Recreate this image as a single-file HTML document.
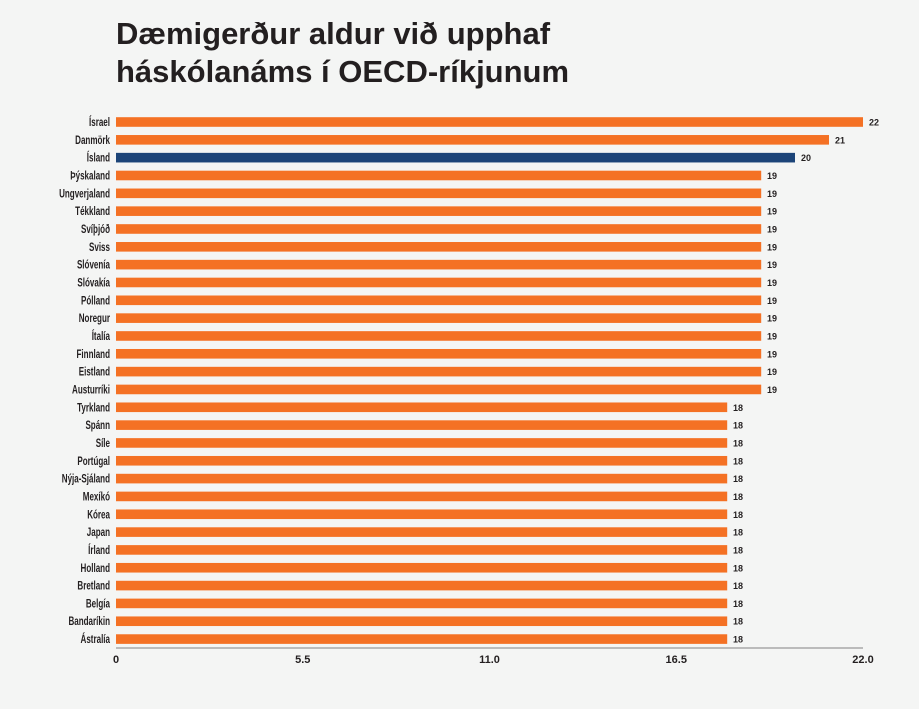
<!DOCTYPE html>
<html><head><meta charset="utf-8"><style>
body{margin:0;background:#f4f5f4;}
svg{display:block;font-family:"Liberation Sans",sans-serif;}
.l{font-size:11.5px;font-weight:bold;fill:#231f20;text-anchor:end}
.v{font-size:9px;font-weight:bold;fill:#231f20}
.o{fill:#f47124}
</style></head><body>
<svg width="919" height="709" xmlns="http://www.w3.org/2000/svg">
<rect width="919" height="709" fill="#f4f5f4"/>
<text x="116" y="44" font-size="31" font-weight="bold" fill="#231f20">Dæmigerður aldur við upphaf</text>
<text x="116" y="82" font-size="31" font-weight="bold" fill="#231f20">háskólanáms í OECD-ríkjunum</text>
<g transform="translate(0,122)"><rect class="o" x="116" y="-4.8" width="747" height="9.6"/><text class="l" transform="translate(110,4) scale(0.7,1)">Ísrael</text><text class="v" x="869" y="3.5">22</text></g>
<g transform="translate(0,139.83)"><rect class="o" x="116" y="-4.8" width="713" height="9.6"/><text class="l" transform="translate(110,4) scale(0.7,1)">Danmörk</text><text class="v" x="835" y="3.5">21</text></g>
<g transform="translate(0,157.66)"><rect fill="#1c4478" x="116" y="-4.8" width="679" height="9.6"/><text class="l" transform="translate(110,4) scale(0.7,1)">Ísland</text><text class="v" x="801" y="3.5">20</text></g>
<g transform="translate(0,175.49)"><rect class="o" x="116" y="-4.8" width="645.2" height="9.6"/><text class="l" transform="translate(110,4) scale(0.7,1)">Þýskaland</text><text class="v" x="767" y="3.5">19</text></g>
<g transform="translate(0,193.32)"><rect class="o" x="116" y="-4.8" width="645.2" height="9.6"/><text class="l" transform="translate(110,4) scale(0.7,1)">Ungverjaland</text><text class="v" x="767" y="3.5">19</text></g>
<g transform="translate(0,211.15)"><rect class="o" x="116" y="-4.8" width="645.2" height="9.6"/><text class="l" transform="translate(110,4) scale(0.7,1)">Tékkland</text><text class="v" x="767" y="3.5">19</text></g>
<g transform="translate(0,228.98)"><rect class="o" x="116" y="-4.8" width="645.2" height="9.6"/><text class="l" transform="translate(110,4) scale(0.7,1)">Svíþjóð</text><text class="v" x="767" y="3.5">19</text></g>
<g transform="translate(0,246.81)"><rect class="o" x="116" y="-4.8" width="645.2" height="9.6"/><text class="l" transform="translate(110,4) scale(0.7,1)">Sviss</text><text class="v" x="767" y="3.5">19</text></g>
<g transform="translate(0,264.64)"><rect class="o" x="116" y="-4.8" width="645.2" height="9.6"/><text class="l" transform="translate(110,4) scale(0.7,1)">Slóvenía</text><text class="v" x="767" y="3.5">19</text></g>
<g transform="translate(0,282.47)"><rect class="o" x="116" y="-4.8" width="645.2" height="9.6"/><text class="l" transform="translate(110,4) scale(0.7,1)">Slóvakía</text><text class="v" x="767" y="3.5">19</text></g>
<g transform="translate(0,300.3)"><rect class="o" x="116" y="-4.8" width="645.2" height="9.6"/><text class="l" transform="translate(110,4) scale(0.7,1)">Pólland</text><text class="v" x="767" y="3.5">19</text></g>
<g transform="translate(0,318.13)"><rect class="o" x="116" y="-4.8" width="645.2" height="9.6"/><text class="l" transform="translate(110,4) scale(0.7,1)">Noregur</text><text class="v" x="767" y="3.5">19</text></g>
<g transform="translate(0,335.96)"><rect class="o" x="116" y="-4.8" width="645.2" height="9.6"/><text class="l" transform="translate(110,4) scale(0.7,1)">Ítalía</text><text class="v" x="767" y="3.5">19</text></g>
<g transform="translate(0,353.79)"><rect class="o" x="116" y="-4.8" width="645.2" height="9.6"/><text class="l" transform="translate(110,4) scale(0.7,1)">Finnland</text><text class="v" x="767" y="3.5">19</text></g>
<g transform="translate(0,371.62)"><rect class="o" x="116" y="-4.8" width="645.2" height="9.6"/><text class="l" transform="translate(110,4) scale(0.7,1)">Eistland</text><text class="v" x="767" y="3.5">19</text></g>
<g transform="translate(0,389.45)"><rect class="o" x="116" y="-4.8" width="645.2" height="9.6"/><text class="l" transform="translate(110,4) scale(0.7,1)">Austurríki</text><text class="v" x="767" y="3.5">19</text></g>
<g transform="translate(0,407.28)"><rect class="o" x="116" y="-4.8" width="611.2" height="9.6"/><text class="l" transform="translate(110,4) scale(0.7,1)">Tyrkland</text><text class="v" x="733" y="3.5">18</text></g>
<g transform="translate(0,425.11)"><rect class="o" x="116" y="-4.8" width="611.2" height="9.6"/><text class="l" transform="translate(110,4) scale(0.7,1)">Spánn</text><text class="v" x="733" y="3.5">18</text></g>
<g transform="translate(0,442.94)"><rect class="o" x="116" y="-4.8" width="611.2" height="9.6"/><text class="l" transform="translate(110,4) scale(0.7,1)">Síle</text><text class="v" x="733" y="3.5">18</text></g>
<g transform="translate(0,460.77)"><rect class="o" x="116" y="-4.8" width="611.2" height="9.6"/><text class="l" transform="translate(110,4) scale(0.7,1)">Portúgal</text><text class="v" x="733" y="3.5">18</text></g>
<g transform="translate(0,478.6)"><rect class="o" x="116" y="-4.8" width="611.2" height="9.6"/><text class="l" transform="translate(110,4) scale(0.7,1)">Nýja-Sjáland</text><text class="v" x="733" y="3.5">18</text></g>
<g transform="translate(0,496.43)"><rect class="o" x="116" y="-4.8" width="611.2" height="9.6"/><text class="l" transform="translate(110,4) scale(0.7,1)">Mexíkó</text><text class="v" x="733" y="3.5">18</text></g>
<g transform="translate(0,514.26)"><rect class="o" x="116" y="-4.8" width="611.2" height="9.6"/><text class="l" transform="translate(110,4) scale(0.7,1)">Kórea</text><text class="v" x="733" y="3.5">18</text></g>
<g transform="translate(0,532.09)"><rect class="o" x="116" y="-4.8" width="611.2" height="9.6"/><text class="l" transform="translate(110,4) scale(0.7,1)">Japan</text><text class="v" x="733" y="3.5">18</text></g>
<g transform="translate(0,549.92)"><rect class="o" x="116" y="-4.8" width="611.2" height="9.6"/><text class="l" transform="translate(110,4) scale(0.7,1)">Írland</text><text class="v" x="733" y="3.5">18</text></g>
<g transform="translate(0,567.75)"><rect class="o" x="116" y="-4.8" width="611.2" height="9.6"/><text class="l" transform="translate(110,4) scale(0.7,1)">Holland</text><text class="v" x="733" y="3.5">18</text></g>
<g transform="translate(0,585.58)"><rect class="o" x="116" y="-4.8" width="611.2" height="9.6"/><text class="l" transform="translate(110,4) scale(0.7,1)">Bretland</text><text class="v" x="733" y="3.5">18</text></g>
<g transform="translate(0,603.41)"><rect class="o" x="116" y="-4.8" width="611.2" height="9.6"/><text class="l" transform="translate(110,4) scale(0.7,1)">Belgía</text><text class="v" x="733" y="3.5">18</text></g>
<g transform="translate(0,621.24)"><rect class="o" x="116" y="-4.8" width="611.2" height="9.6"/><text class="l" transform="translate(110,4) scale(0.7,1)">Bandaríkin</text><text class="v" x="733" y="3.5">18</text></g>
<g transform="translate(0,639.07)"><rect class="o" x="116" y="-4.8" width="611.2" height="9.6"/><text class="l" transform="translate(110,4) scale(0.7,1)">Ástralía</text><text class="v" x="733" y="3.5">18</text></g>
<line x1="116" y1="648" x2="863" y2="648" stroke="#999" stroke-width="1.2"/>
<g font-size="11" font-weight="bold" fill="#231f20" text-anchor="middle">
<text x="116" y="663">0</text><text x="302.75" y="663">5.5</text><text x="489.5" y="663">11.0</text><text x="676.25" y="663">16.5</text><text x="863" y="663">22.0</text>
</g>
</svg>
</body></html>
